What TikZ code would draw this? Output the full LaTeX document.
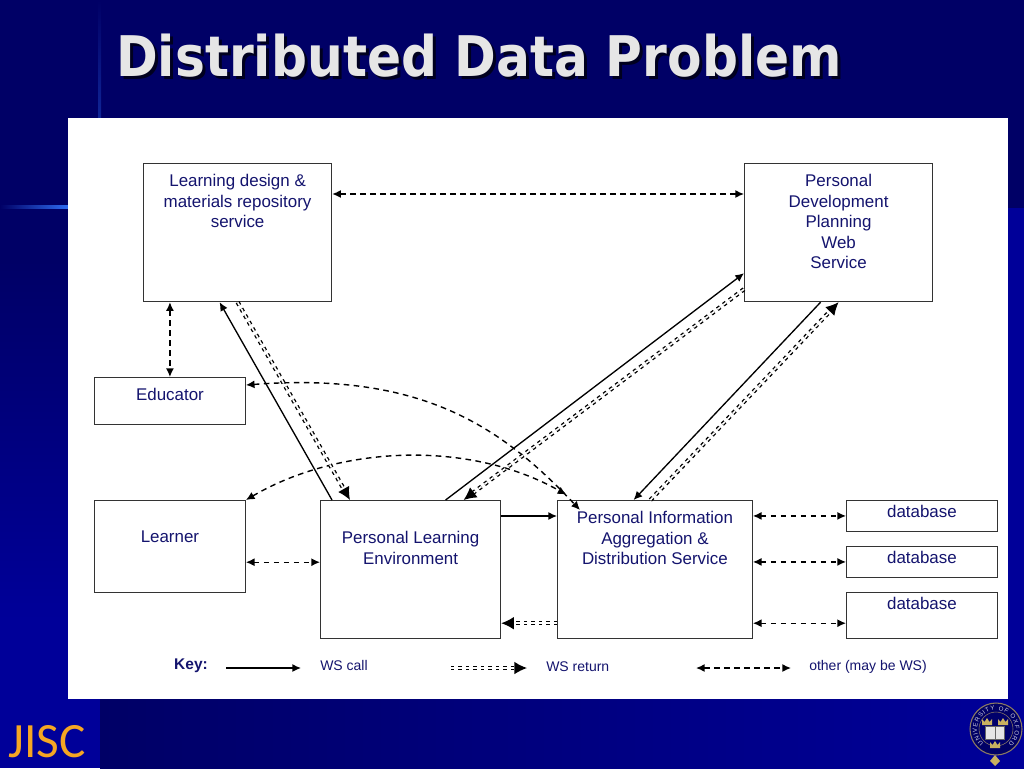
\documentclass[tikz,border=0pt]{standalone}
\usepackage{fontspec}
\setmainfont{Liberation Sans}
\newfontfamily\titlefont{DejaVu Sans}
\newfontfamily\logofont{Carlito}
\usetikzlibrary{arrows.meta}
\usetikzlibrary{decorations.text}
\definecolor{navytop}{HTML}{000066}
\definecolor{navylow}{HTML}{000099}
\definecolor{boxtext}{HTML}{14146E}
\definecolor{glow}{HTML}{2E6BF0}
\definecolor{titlegrey}{HTML}{E6E6E6}
\definecolor{logoorange}{HTML}{F5A623}
\definecolor{crowngold}{HTML}{C8B060}
\tikzset{
	box/.style={draw=black!80, fill=white, line width=0.9pt, inner sep=0pt, anchor=north west},
	boxlabel/.style={text=boxtext, font=\fontsize{12.7}{15.4}\selectfont, align=center, inner sep=0pt, anchor=north},
	keylabel/.style={text=boxtext, font=\fontsize{10.5}{12}\selectfont, inner sep=0pt, anchor=west},
	titletext/.style={font=\titlefont\bfseries\fontsize{42}{42}\selectfont, anchor=base west, inner sep=0pt, xscale=0.898},
	wscall/.style={line width=1pt, -{Latex[length=6.5pt,width=6pt]}},
	wsreturn/.style={double, double distance=1.2pt, line width=1pt, dash pattern=on 2.6pt off 3pt, -{Latex[length=9.5pt,width=9.5pt]}},
	other/.style={line width=1.05pt, dash pattern=on 4.2pt off 3.3pt, {Latex[length=6.5pt,width=6pt]}-{Latex[length=6.5pt,width=6pt]}},
}
\begin{document}
\begin{tikzpicture}[x=0.75pt, y=-0.75pt]
		%slide background
		\useasboundingbox (0,0) rectangle (1024,768);
		\fill[navytop] (0,0) rectangle (1024,768);
		\fill[top color=navytop, bottom color=navylow] (0,260) rectangle (100,620);
		\fill[navylow] (0,620) rectangle (100,768);
		\fill[navylow] (1008,208) rectangle (1024,768);
		\fill[left color=navytop, right color=navylow] (100,699) rectangle (1024,768);
		\fill[left color=navytop, right color=glow] (0,205) rectangle (68,208);
		\fill[top color=navytop, bottom color=glow!35!navytop] (98,0) rectangle (101,118);
		\fill[white] (68,118) rectangle (1008,699);

		%title
		\node[titletext, text=black!70!navytop] (titleshadow) at (119,79) {Distributed Data Problem};
		\node[titletext, text=titlegrey] (title) at (116,76) {Distributed Data Problem};

		%boxes
		\node[box, minimum width=141pt, minimum height=103.5pt, label={[boxlabel, yshift=-8.25pt]north:Learning design \&\\materials repository\\service}] (design) at (143,163) {};
		\node[box, minimum width=141pt, minimum height=103.5pt, label={[boxlabel, yshift=-8.25pt]north:Personal\\Development\\Planning\\Web\\Service}] (pdp) at (744,163) {};
		\node[box, minimum width=113pt, minimum height=35pt, label={[boxlabel, yshift=-8.25pt]north:Educator}] (educator) at (94,377) {};
		\node[box, minimum width=113pt, minimum height=69pt, label={[boxlabel, yshift=-23.25pt]north:Learner}] (learner) at (94,500) {};
		\node[box, minimum width=135pt, minimum height=103.5pt, label={[boxlabel, yshift=-23.25pt]north:Personal Learning\\Environment}] (ple) at (320,500) {};
		\node[box, minimum width=146pt, minimum height=103.5pt, label={[boxlabel, yshift=-8.25pt]north:Personal Information\\Aggregation \&\\Distribution Service}] (pias) at (557,500) {};
		\node[box, minimum width=113pt, minimum height=23pt, label={[boxlabel, yshift=-3.75pt]north:database}] (dbone) at (846,500) {};
		\node[box, minimum width=113pt, minimum height=23pt, label={[boxlabel, yshift=-3.75pt]north:database}] (dbtwo) at (846,546) {};
		\node[box, minimum width=113pt, minimum height=34.5pt, label={[boxlabel, yshift=-3.75pt]north:database}] (dbthree) at (846,592) {};

		%other links
		\draw[other] ([yshift=-23.25pt]design.north east) -- ([yshift=-23.25pt]pdp.north west);
		\draw[other] (educator.north |- design.south) -- (educator.north);
		\draw[other] ([yshift=-6pt]educator.north east) .. controls (420,372) and (500,425) .. ([xshift=17.25pt,yshift=-7.5pt]pias.north west);
		\draw[other] (learner.north east) .. controls (340,445) and (470,440) .. ([xshift=7pt,yshift=4pt]pias.north west);
		\draw[other] ([yshift=23.25pt]learner.south east) -- ([yshift=57.75pt]ple.south west);
		\draw[other] (pias.east |- dbone.west) -- (dbone.west);
		\draw[other] (pias.east |- dbtwo.west) -- (dbtwo.west);
		\draw[other] ([yshift=12pt]pias.south east) -- ([yshift=12pt]dbthree.south west);

		%WS calls
		\draw[wscall] ([xshift=9pt]ple.north west) -- ([xshift=-13.5pt]design.south);
		\draw[wscall] ([xshift=26.25pt]ple.north) -- ([yshift=21.75pt]pdp.south west);
		\draw[wscall] ([xshift=-13.5pt]pdp.south) -- ([xshift=-16pt]pias.north);
		\draw[wscall] ([yshift=-12pt]ple.north east) -- ([yshift=-12pt]pias.north west);

		%WS returns
		\draw[wsreturn] (design.south) -- ([xshift=22.5pt]ple.north west);
		\draw[wsreturn] ([yshift=9.75pt]pdp.south west) -- ([xshift=39.75pt]ple.north);
		\draw[wsreturn] ([xshift=-3.4pt]pias.north) -- (pdp.south);
		\draw[wsreturn] ([yshift=12pt]pias.south west) -- ([yshift=12pt]ple.south east);

		%key
		\node[font=\bfseries\fontsize{11.6}{14}\selectfont, text=boxtext, inner sep=0pt] (keyname) at (191,666) {Key:};
		\coordinate (callstart) at (226,668);
		\coordinate (callend) at (301,668);
		\draw[wscall] (callstart) -- (callend);
		\node[keylabel] (calllabel) at (320,665) {WS call};
		\coordinate (returnstart) at (451,668);
		\coordinate (returnend) at (527,668);
		\draw[wsreturn] (returnstart) -- (returnend);
		\node[keylabel] (returnlabel) at (546,667) {WS return};
		\coordinate (otherstart) at (696,668);
		\coordinate (otherend) at (791,668);
		\draw[other] (otherstart) -- (otherend);
		\node[keylabel] (otherlabel) at (809,667) {other (may be WS)};

		%logos
		\node[text=logoorange, font=\logofont\fontsize{37}{37}\selectfont, inner sep=0pt, anchor=base west] (jisc) at (8,757) {JISC};
		\node[circle, draw=crowngold!70!navytop, fill=navytop, line width=0.8pt, minimum size=39pt, inner sep=0pt] (seal) at (996,729) {};
		\path[decorate, decoration={text along path, text align={fit to path}, text={|\fontsize{4.6}{5}\selectfont\color{white!80!navytop}|UNIVERSITY OF OXFORD}}] (seal.center) ++(-12.2,14.6) arc[start angle=130, end angle=410, radius=19];
		\node[circle, draw=crowngold!70!navytop, fill=navylow!70!black, line width=0.4pt, minimum size=25.5pt, inner sep=0pt] (sealinner) at (seal.center) {};
		\foreach \x/\y in {987/722, 1003/722, 995/745}
		\fill[crowngold] (\x-5,\y+3) -- (\x-5,\y-3) -- (\x-2.5,\y) -- (\x,\y-4) -- (\x+2.5,\y) -- (\x+5,\y-3) -- (\x+5,\y+3) -- cycle;
		\node[fill=white!90!black, draw=black!60, line width=0.4pt, minimum width=14pt, minimum height=10pt, inner sep=0pt] (sealbook) at (995,733) {};
		\draw[black!60, line width=0.4pt] (sealbook.north) -- (sealbook.south);
		\fill[crowngold] (995,755) -- (990,761) -- (995,766) -- (1000,761) -- cycle;
\end{tikzpicture}
\end{document}
